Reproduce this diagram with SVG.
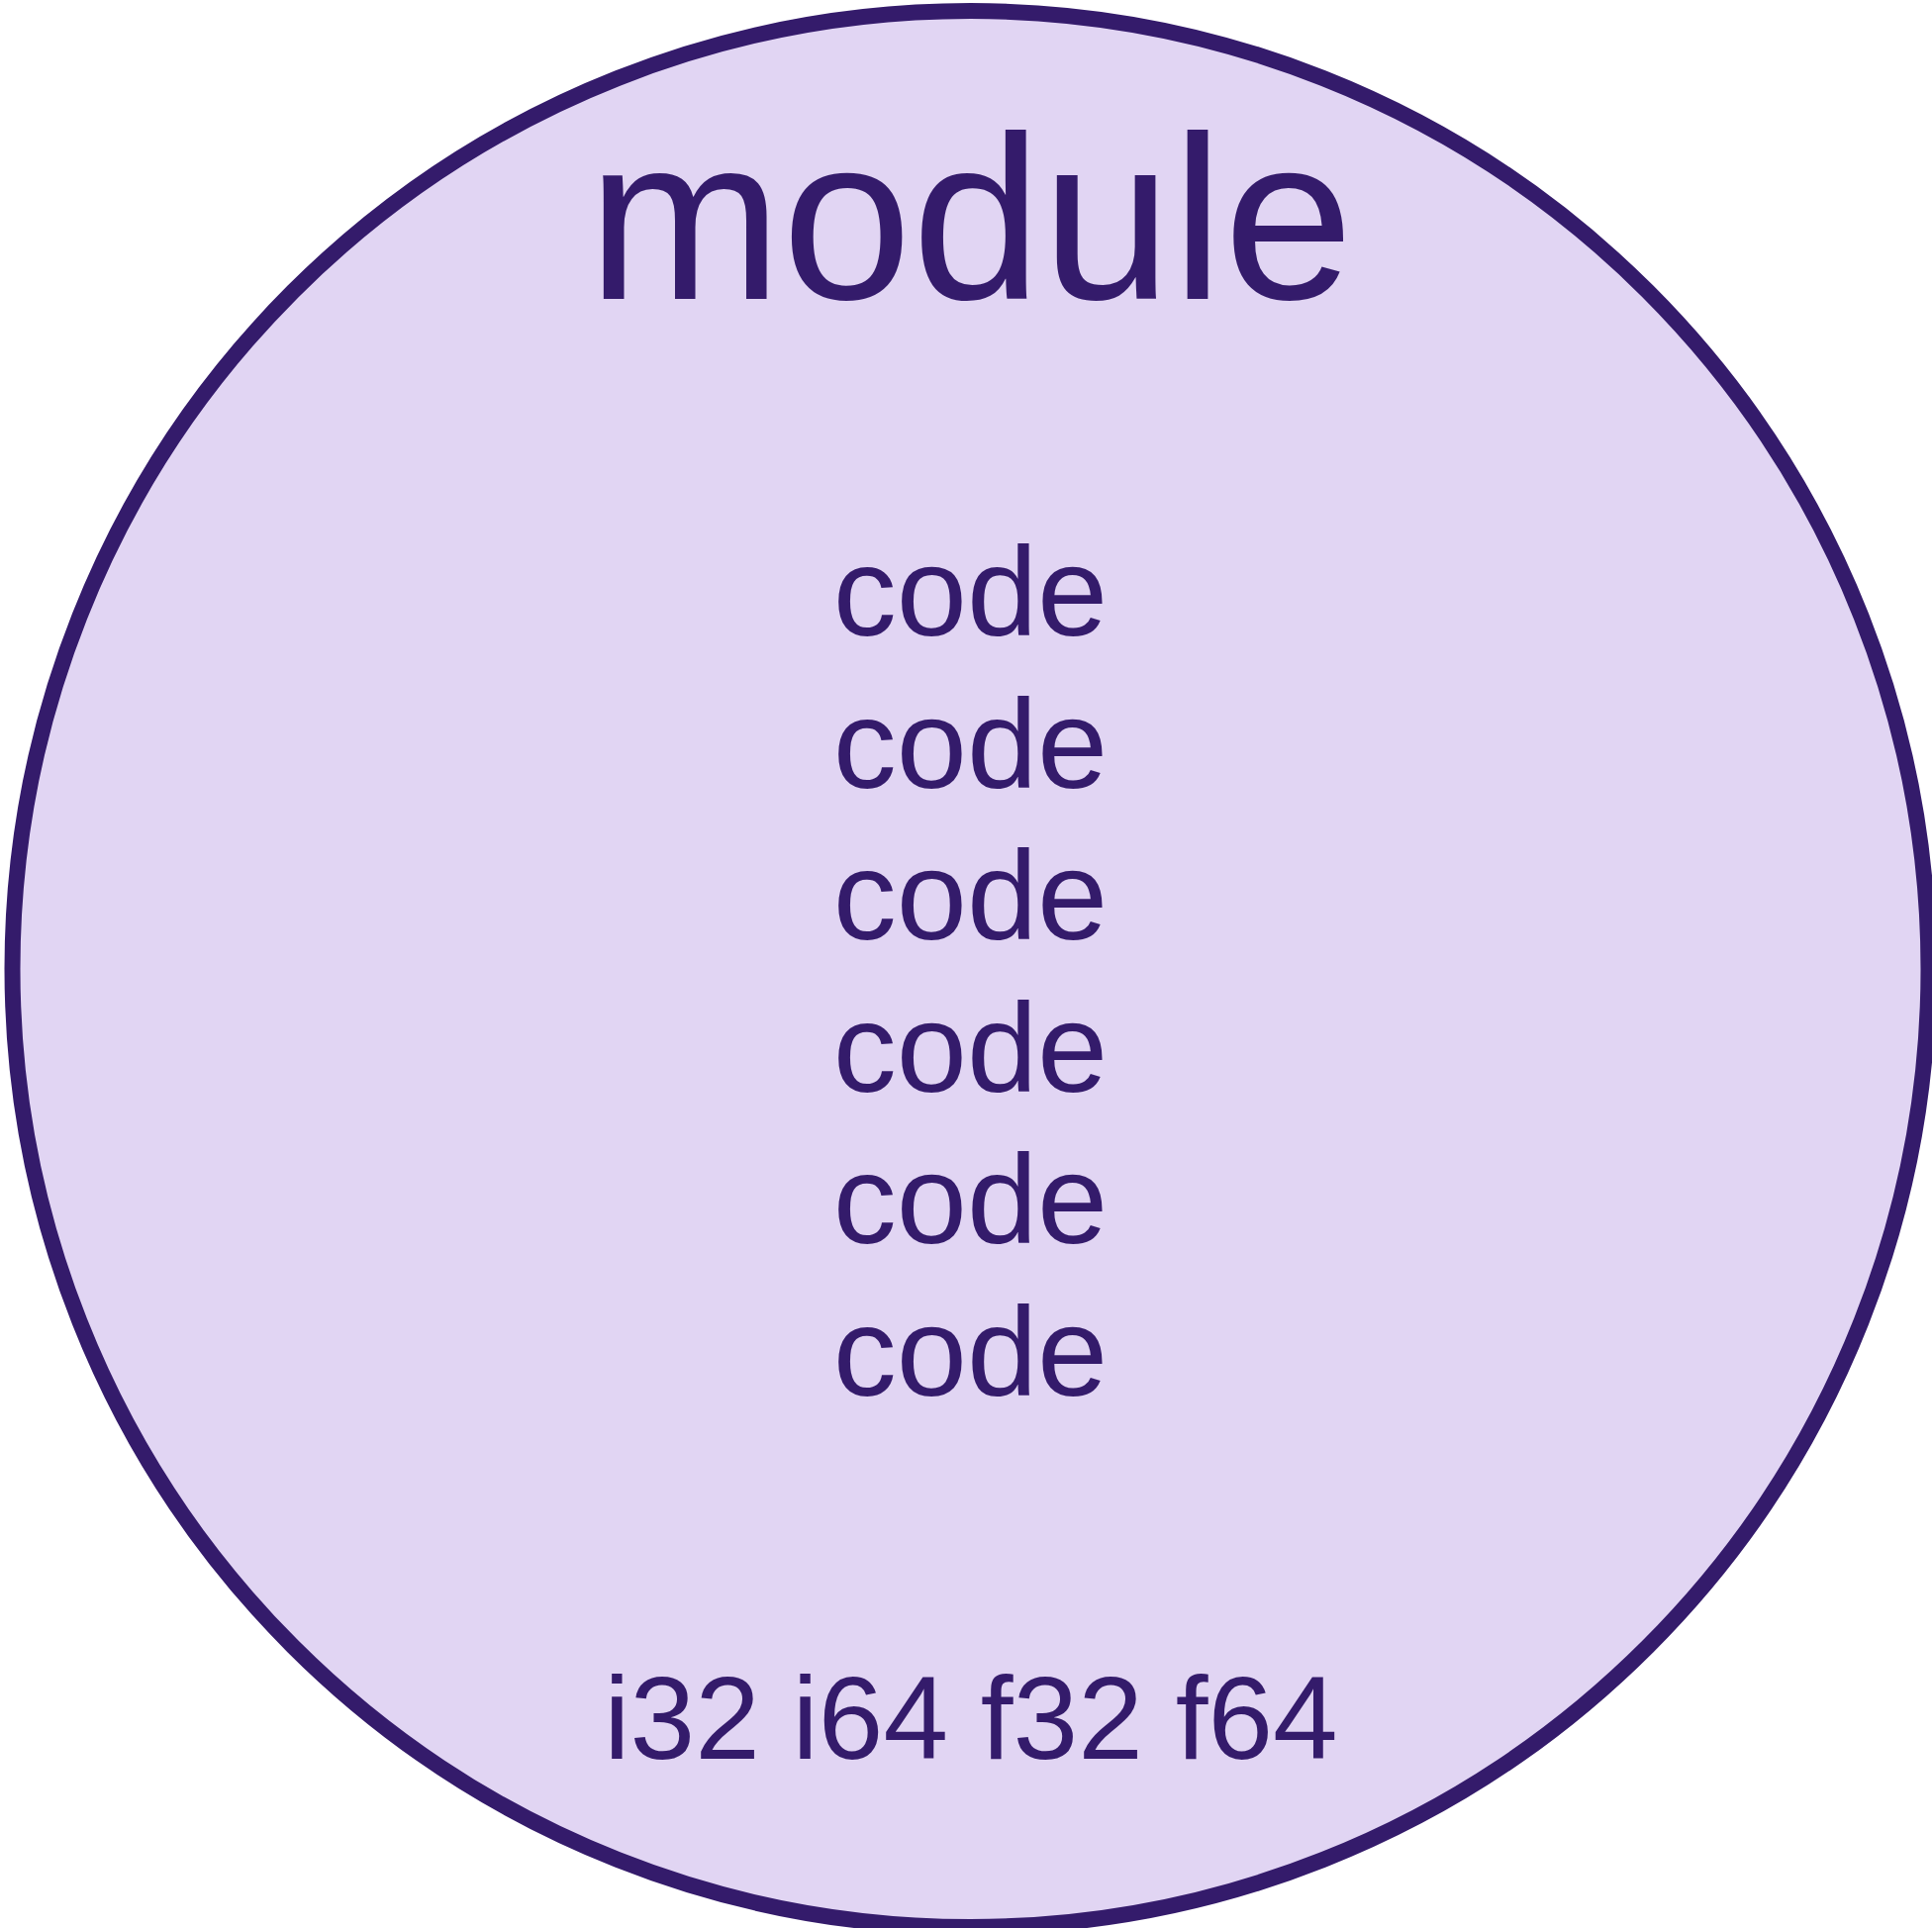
<svg xmlns="http://www.w3.org/2000/svg" width="1952" height="1948" viewBox="0 0 1952 1948">
  <style>
    .label { font-family: "Liberation Sans", Arial, sans-serif; fill: #341b6b; text-anchor: middle; }
    .title { font-size: 236px; }
    .code { font-size: 128px; }
    .types { font-size: 118px; }
  </style>
  <rect width="1952" height="1948" fill="#ffffff"/>
  <g id="module">
    <circle cx="980.5" cy="979" r="968" fill="#e1d5f3" stroke="#341b6b" stroke-width="16"/>
    <text class="label title" x="980.5" y="301.5">module</text>
  </g>
  <g id="code-1"><text class="label code" x="980.5" y="642">code</text></g>
  <g id="code-2"><text class="label code" x="980.5" y="795.6">code</text></g>
  <g id="code-3"><text class="label code" x="980.5" y="949.2">code</text></g>
  <g id="code-4"><text class="label code" x="980.5" y="1102.8">code</text></g>
  <g id="code-5"><text class="label code" x="980.5" y="1256.4">code</text></g>
  <g id="code-6"><text class="label code" x="980.5" y="1410">code</text></g>
  <g id="value-types"><text class="label types" x="981" y="1777">i32 i64 f32 f64</text></g>
  <g id="connectors"/>
</svg>
